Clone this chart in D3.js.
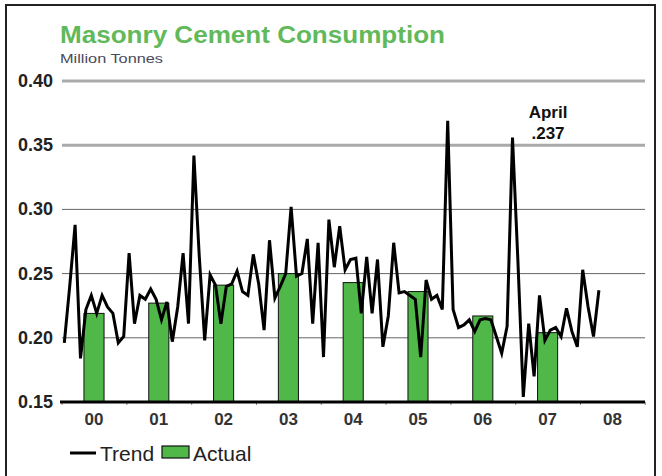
<!DOCTYPE html>
<html>
<head>
<meta charset="utf-8">
<script src="https://cdn.jsdelivr.net/npm/d3@7"></script>
<style>
  body { margin: 0; background: #fff; }
  svg { display: block; font-family: "Liberation Sans", Arial, sans-serif; }
</style>
</head>
<body>
<div id="chart"></div>
<script>
const yearLabels = ['00', '01', '02', '03', '04', '05', '06', '07', '08'];
const actualValues = [0.219, 0.227, 0.241, 0.250, 0.243, 0.236, 0.217, 0.204];
// monthly trend, Jan 2000 .. Apr 2008
const trendValues = [
  0.196, 0.240, 0.288, 0.184, 0.222, 0.233, 0.219, 0.233, 0.224, 0.219, 0.196, 0.201,
  0.266, 0.211, 0.233, 0.230, 0.238, 0.230, 0.214, 0.228, 0.197, 0.224, 0.266, 0.211,
  0.342, 0.263, 0.198, 0.249, 0.241, 0.211, 0.240, 0.242, 0.252, 0.236, 0.233, 0.265,
  0.242, 0.206, 0.276, 0.231, 0.240, 0.250, 0.302, 0.248, 0.250, 0.277, 0.211, 0.274,
  0.185, 0.292, 0.255, 0.287, 0.253, 0.261, 0.262, 0.219, 0.263, 0.219, 0.261, 0.193,
  0.217, 0.274, 0.235, 0.236, 0.233, 0.230, 0.185, 0.245, 0.230, 0.233, 0.222, 0.369,
  0.222, 0.208, 0.210, 0.214, 0.205, 0.214, 0.215, 0.214, 0.201, 0.188, 0.209, 0.356,
  0.260, 0.154, 0.211, 0.170, 0.233, 0.198, 0.206, 0.208, 0.201, 0.223, 0.205, 0.193,
  0.253, 0.224, 0.201, 0.237
];
const yTicks = [0.15, 0.20, 0.25, 0.30, 0.35, 0.40];
const lastLabel = ['April', '.237'];

const width = 662, height = 476;
const green = '#4fb848';

const svg = d3.select('#chart').append('svg')
  .attr('width', width)
  .attr('height', height);

// frame
svg.append('rect')
  .attr('x', 6).attr('y', 5)
  .attr('width', 649).attr('height', 490)
  .attr('fill', '#fff')
  .attr('stroke', '#222')
  .attr('stroke-width', 2);

// months from Jan 2000
const x = d3.scaleLinear().domain([0, 108]).range([61.6, 644.8]);
const y = d3.scaleLinear().domain([0.15, 0.40]).range([402, 81]);

// title
svg.append('text')
  .attr('x', 60).attr('y', 43)
  .attr('textLength', 385)
  .attr('lengthAdjust', 'spacingAndGlyphs')
  .style('font-size', '23px')
  .style('font-weight', 'bold')
  .style('fill', '#62b95a')
  .text('Masonry Cement Consumption');

svg.append('text')
  .attr('x', 60).attr('y', 63)
  .attr('textLength', 103)
  .attr('lengthAdjust', 'spacingAndGlyphs')
  .style('font-size', '13px')
  .style('fill', '#4a4a5c')
  .text('Million Tonnes');

// grid
const grid = svg.append('g');
grid.selectAll('line')
  .data(yTicks.filter(d => d > 0.15))
  .join('line')
  .attr('x1', 62).attr('x2', 645)
  .attr('y1', d => y(d)).attr('y2', d => y(d))
  .attr('stroke', d => d >= 0.35 ? '#aaa' : '#666')
  .attr('stroke-width', d => d >= 0.35 ? 3 : 1);

// y labels
svg.append('g').selectAll('text')
  .data(yTicks)
  .join('text')
  .attr('x', 53)
  .attr('y', d => y(d) + 6)
  .attr('text-anchor', 'end')
  .style('font-size', '18px')
  .style('font-weight', 'bold')
  .style('fill', '#222')
  .text(d => d3.format('.2f')(d));

// bars
const barW = (x(12) - x(0)) * 0.31;
svg.append('g').selectAll('rect')
  .data(actualValues)
  .join('rect')
  .attr('x', (d, i) => x(12 * i + 6) - barW / 2)
  .attr('y', d => y(d))
  .attr('width', barW)
  .attr('height', d => y(0.15) - y(d))
  .attr('fill', green)
  .attr('stroke', '#111')
  .attr('stroke-width', 1);

// trend line
const line = d3.line()
  .x((d, i) => x(i + 0.5))
  .y(d => y(d));

svg.append('path')
  .datum(trendValues)
  .attr('d', line)
  .attr('fill', 'none')
  .attr('stroke', '#000')
  .attr('stroke-width', 3)
  .attr('stroke-linejoin', 'miter');

// x axis
const xAxis = d3.axisBottom(x)
  .tickValues(d3.range(0, 109, 12))
  .tickSize(3)
  .tickFormat('');
const xAxisG = svg.append('g')
  .attr('transform', `translate(0,${y(0.15)})`)
  .call(xAxis);
xAxisG.select('.domain').remove();
xAxisG.selectAll('.tick line').attr('stroke', '#888');

svg.append('line')
  .attr('x1', 60).attr('x2', 645)
  .attr('y1', y(0.15)).attr('y2', y(0.15))
  .attr('stroke', '#000')
  .attr('stroke-width', 3);

svg.append('g').selectAll('text')
  .data(yearLabels)
  .join('text')
  .attr('x', (d, i) => x(12 * i + 6))
  .attr('y', 425)
  .attr('text-anchor', 'middle')
  .style('font-size', '17px')
  .style('font-weight', 'bold')
  .style('fill', '#333')
  .text(d => d);

// annotation for last point
svg.append('g').selectAll('text')
  .data(lastLabel)
  .join('text')
  .attr('x', 548)
  .attr('y', (d, i) => 118 + i * 21)
  .attr('text-anchor', 'middle')
  .style('font-size', '17px')
  .style('font-weight', 'bold')
  .style('fill', '#111')
  .text(d => d);

// legend
const legend = svg.append('g');
legend.append('line')
  .attr('x1', 70).attr('x2', 96)
  .attr('y1', 453).attr('y2', 453)
  .attr('stroke', '#000')
  .attr('stroke-width', 3);
legend.append('text')
  .attr('x', 100).attr('y', 461)
  .style('font-size', '21px')
  .style('fill', '#222')
  .text('Trend');
legend.append('rect')
  .attr('x', 162).attr('y', 446)
  .attr('width', 27).attr('height', 12)
  .attr('fill', green)
  .attr('stroke', '#111')
  .attr('stroke-width', 1.2);
legend.append('text')
  .attr('x', 193).attr('y', 461)
  .style('font-size', '21px')
  .style('fill', '#222')
  .text('Actual');
</script>
</body>
</html>
